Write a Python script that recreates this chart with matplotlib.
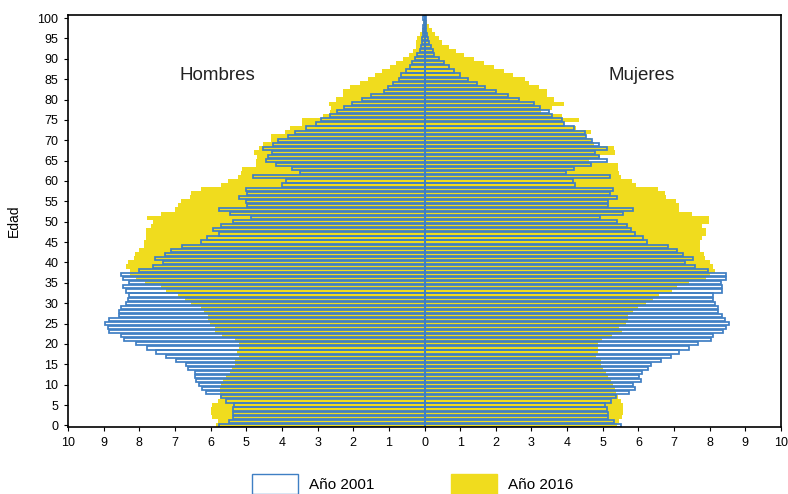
import numpy as np
import matplotlib
matplotlib.use("Agg")
import matplotlib.pyplot as plt
from matplotlib.patches import Patch

# edades 0..100, valores por mil habitantes
edades = np.arange(0, 101)

hombres_2001 = [5.77, 5.49, 5.37, 5.37, 5.37, 5.34, 5.57, 5.70, 6.12, 6.24,
                6.33, 6.40, 6.45, 6.45, 6.63, 6.68, 6.96, 7.24, 7.52, 7.77,
                8.08, 8.43, 8.52, 8.84, 8.87, 8.96, 8.84, 8.56, 8.56, 8.52,
                8.38, 8.31, 8.28, 8.38, 8.47, 8.29, 8.45, 8.52, 8.00, 7.61,
                7.33, 7.56, 7.28, 7.12, 6.80, 6.26, 6.09, 5.76, 5.93, 5.70,
                5.37, 4.86, 5.46, 5.76, 4.99, 5.01, 5.20, 4.97, 5.01, 4.01,
                3.89, 4.81, 3.50, 3.73, 4.17, 4.44, 4.39, 4.27, 4.53, 4.25,
                4.11, 3.83, 3.64, 3.33, 3.05, 2.89, 2.64, 2.45, 2.27, 2.03,
                1.74, 1.49, 1.14, 1.03, 0.87, 0.72, 0.65, 0.53, 0.42, 0.35,
                0.28, 0.21, 0.14, 0.11, 0.08, 0.06, 0.05, 0.04, 0.03, 0.02,
                0.03]

hombres_2016 = [5.86, 5.80, 5.95, 6.00, 6.00, 5.95, 5.79, 5.74, 5.74, 5.74,
                5.72, 5.65, 5.56, 5.46, 5.39, 5.32, 5.32, 5.21, 5.25, 5.21,
                5.21, 5.32, 5.68, 5.88, 5.88, 6.02, 6.07, 6.07, 6.19, 6.27,
                6.55, 6.72, 6.91, 7.24, 7.39, 7.85, 8.10, 8.26, 8.26, 8.38,
                8.31, 8.15, 8.13, 8.00, 7.86, 7.86, 7.80, 7.80, 7.82, 7.67,
                7.61, 7.78, 7.39, 7.00, 6.91, 6.82, 6.58, 6.54, 6.26, 5.71,
                5.51, 5.23, 5.14, 5.11, 4.72, 4.72, 4.70, 4.79, 4.65, 4.53,
                4.30, 4.30, 3.92, 3.78, 3.45, 3.45, 2.85, 2.66, 2.61, 2.68,
                2.49, 2.29, 2.29, 2.10, 1.82, 1.59, 1.40, 1.19, 0.98, 0.79,
                0.61, 0.44, 0.33, 0.25, 0.23, 0.21, 0.14, 0.08, 0.05, 0.03,
                0.02]

mujeres_2001 = [5.51, 5.32, 5.16, 5.14, 5.11, 5.07, 5.23, 5.37, 5.74, 5.91,
                5.86, 6.07, 6.02, 6.10, 6.26, 6.35, 6.63, 6.91, 7.14, 7.42,
                7.66, 8.03, 8.08, 8.38, 8.45, 8.54, 8.42, 8.34, 8.22, 8.24,
                8.15, 8.08, 8.10, 8.34, 8.34, 8.31, 8.47, 8.47, 7.94, 7.59,
                7.31, 7.52, 7.26, 7.07, 6.82, 6.24, 6.14, 5.91, 5.79, 5.67,
                5.39, 4.92, 5.56, 5.86, 5.16, 5.14, 5.40, 5.20, 5.28, 4.23,
                4.16, 5.20, 3.97, 4.20, 4.67, 5.11, 4.90, 4.79, 5.11, 4.90,
                4.70, 4.53, 4.50, 4.20, 3.92, 3.86, 3.59, 3.48, 3.24, 3.08,
                2.66, 2.33, 2.01, 1.70, 1.47, 1.21, 1.00, 0.82, 0.70, 0.56,
                0.42, 0.28, 0.23, 0.19, 0.14, 0.10, 0.07, 0.05, 0.04, 0.03,
                0.03]

mujeres_2016 = [5.39, 5.46, 5.54, 5.56, 5.57, 5.57, 5.51, 5.44, 5.37, 5.35,
                5.29, 5.23, 5.16, 5.09, 5.00, 4.95, 4.95, 4.81, 4.88, 4.87,
                4.87, 4.98, 5.26, 5.54, 5.46, 5.65, 5.72, 5.72, 5.84, 5.98,
                6.21, 6.40, 6.58, 6.94, 7.07, 7.42, 7.91, 8.00, 8.15, 8.08,
                8.00, 7.87, 7.84, 7.73, 7.72, 7.72, 7.78, 7.89, 7.89, 7.78,
                7.98, 7.98, 7.50, 7.14, 7.14, 7.05, 6.77, 6.75, 6.56, 5.93,
                5.82, 5.51, 5.46, 5.43, 5.43, 4.62, 4.92, 5.35, 5.32, 4.75,
                4.67, 4.53, 4.67, 4.25, 3.92, 4.34, 3.86, 3.27, 3.58, 3.92,
                3.64, 3.45, 3.45, 3.20, 2.94, 2.83, 2.47, 2.24, 1.96, 1.68,
                1.40, 1.12, 0.87, 0.68, 0.50, 0.40, 0.30, 0.20, 0.12, 0.08,
                0.05]

amarillo = "#F0DC1E"
azul = "#3F7FC4"

plt.rcParams['font.family'] = ['Liberation Sans Narrow', 'Liberation Sans', 'DejaVu Sans']

fig = plt.figure(figsize=(7.88, 4.94), dpi=100)
ax = fig.add_axes([68/788, 1-427/494, (781-68)/788, (427-15)/494])

# 2016 relleno amarillo
ax.barh(edades, -np.array(hombres_2016), height=1.0, color=amarillo, linewidth=0, zorder=1)
ax.barh(edades, np.array(mujeres_2016), height=1.0, color=amarillo, linewidth=0, zorder=1)
# 2001 solo contorno azul
ax.barh(edades, -np.array(hombres_2001), height=0.78, fill=False, edgecolor=azul, linewidth=1.25, zorder=2)
ax.barh(edades, np.array(mujeres_2001), height=0.78, fill=False, edgecolor=azul, linewidth=1.25, zorder=2)

ax.set_xlim(-10, 10)
ax.set_ylim(-0.4, 100.75)
xt = np.arange(-10, 11)
ax.set_xticks(xt)
ax.set_xticklabels([str(abs(t)) for t in xt], fontsize=9)
ax.set_yticks(np.arange(0, 101, 5))
ax.set_yticklabels([str(t) for t in range(0, 101, 5)], fontsize=9)
ax.tick_params(length=3, width=0.8, pad=4)
for s in ax.spines.values():
    s.set_linewidth(1.2)
    s.set_color("black")

ax.set_ylabel("Edad", fontsize=10, family=['Liberation Sans', 'DejaVu Sans'], labelpad=12)

fig.text(217/788, 1-76/494, "Hombres", ha="center", va="center", fontsize=13.5,
         family=['Liberation Sans', 'DejaVu Sans'], color="#222222")
fig.text(642/788, 1-76/494, "Mujeres", ha="center", va="center", fontsize=13.5,
         family=['Liberation Sans', 'DejaVu Sans'], color="#222222")

handles = [Patch(facecolor="white", edgecolor=azul, linewidth=1.0, label="Año 2001"),
           Patch(facecolor=amarillo, edgecolor=amarillo, label="Año 2016")]
fig.legend(handles=handles, loc="upper left", bbox_to_anchor=(252/788, 1-474/494),
           ncol=2, frameon=False, fontsize=11, handlelength=3.0, handleheight=1.6,
           handletextpad=0.7, columnspacing=5.05, borderpad=0, borderaxespad=0)

fig.savefig("out.png", dpi=100)
